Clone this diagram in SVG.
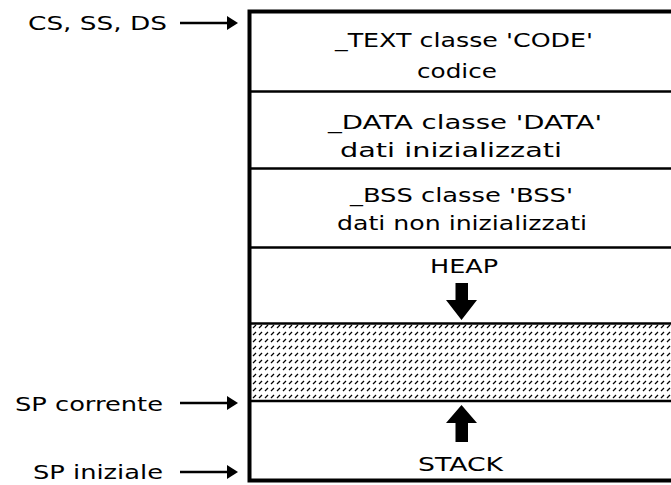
<svg xmlns="http://www.w3.org/2000/svg" width="671" height="485" viewBox="0 0 671 485">
  <style>
    .t { font-family: "DejaVu Sans", "Liberation Sans", sans-serif; font-size: 20px; fill: #000; }
    .div { stroke: #000; stroke-width: 2.5; fill: none; }
    .conn { stroke: #000; stroke-width: 2.5; fill: none; }
    .blk { fill: #000; stroke: none; }
  </style>
  <defs>
    <marker id="ah" markerUnits="userSpaceOnUse" markerWidth="11" markerHeight="14" refX="1" refY="7" orient="auto">
      <path d="M0,0 L11,7 L0,14 z" fill="#000"/>
    </marker>
    <pattern id="hatch" patternUnits="userSpaceOnUse" width="6" height="7">
      <rect width="6" height="7" fill="#fff"/>
      <path d="M1,6 L4,3" stroke="#000" stroke-width="1.2"/>
    </pattern>
  </defs>
  <rect width="671" height="485" fill="#fff"/>

  <g id="seg-text">
    <text class="t" x="335" y="47" textLength="258" lengthAdjust="spacingAndGlyphs">_TEXT classe 'CODE'</text>
    <text class="t" x="417" y="78" textLength="80" lengthAdjust="spacingAndGlyphs">codice</text>
  </g>
  <g id="seg-data">
    <line class="div" x1="251" y1="91.5" x2="671" y2="91.5"/>
    <text class="t" x="328" y="129" textLength="274" lengthAdjust="spacingAndGlyphs">_DATA classe 'DATA'</text>
    <text class="t" x="340" y="157" textLength="222" lengthAdjust="spacingAndGlyphs">dati inizializzati</text>
  </g>
  <g id="seg-bss">
    <line class="div" x1="251" y1="168.5" x2="671" y2="168.5"/>
    <text class="t" x="350" y="202" textLength="223" lengthAdjust="spacingAndGlyphs">_BSS classe 'BSS'</text>
    <text class="t" x="337" y="230" textLength="250" lengthAdjust="spacingAndGlyphs">dati non inizializzati</text>
  </g>
  <g id="seg-heap">
    <line class="div" x1="251" y1="247.5" x2="671" y2="247.5"/>
    <text class="t" x="430" y="273" textLength="68" lengthAdjust="spacingAndGlyphs">HEAP</text>
    <path class="blk" d="M455.5,283 H468 V300 H477 L461.5,320 L446,300 H455.5 Z"/>
  </g>
  <g id="seg-free">
    <rect x="251" y="324" width="420" height="77" fill="url(#hatch)"/>
    <line class="div" x1="251" y1="323.5" x2="671" y2="323.5"/>
    <line class="div" x1="251" y1="401" x2="671" y2="401"/>
  </g>
  <g id="seg-stack">
    <path class="blk" d="M461.5,405 L477,423 H468 V442 H455.5 V423 H446 Z"/>
    <text class="t" x="418" y="471" textLength="85" lengthAdjust="spacingAndGlyphs">STACK</text>
  </g>
  <g id="memory-box">
    <rect x="249.5" y="11.5" width="440" height="469" fill="none" stroke="#000" stroke-width="4"/>
  </g>

  <g id="label-cs">
    <text class="t" x="28" y="30" textLength="139" lengthAdjust="spacingAndGlyphs">CS, SS, DS</text>
  </g>
  <g id="label-sp-corrente">
    <text class="t" x="15" y="411" textLength="148" lengthAdjust="spacingAndGlyphs">SP corrente</text>
  </g>
  <g id="label-sp-iniziale">
    <text class="t" x="33" y="479" textLength="130" lengthAdjust="spacingAndGlyphs">SP iniziale</text>
  </g>

  <g id="connectors">
    <path class="conn" d="M180,23 H228" marker-end="url(#ah)"/>
    <path class="conn" d="M180,403 H228" marker-end="url(#ah)"/>
    <path class="conn" d="M180,472 H228" marker-end="url(#ah)"/>
  </g>
</svg>
